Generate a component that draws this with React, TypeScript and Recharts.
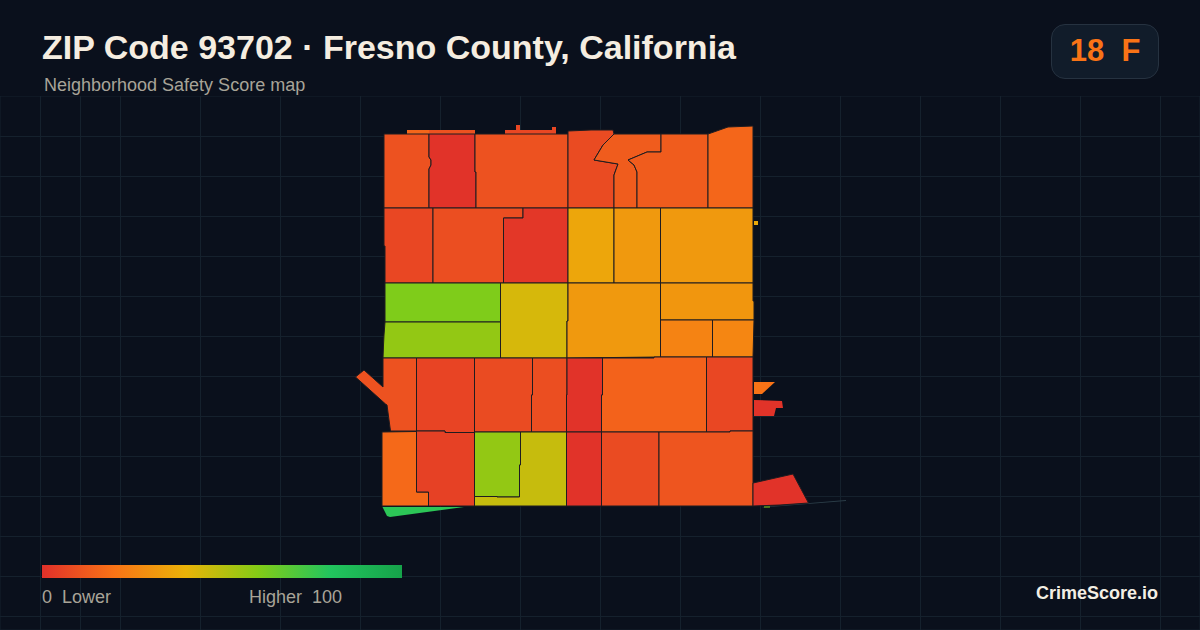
import { CartesianGrid, Scatter, ScatterChart, XAxis, YAxis } from 'recharts';

type Pt = [number, number];

const gridX = [0, 40, 80, 120, 160, 200, 240, 280, 320, 360, 400, 440, 480, 520, 560, 600, 640, 680, 720, 760, 800, 840, 880, 920, 960, 1000, 1040, 1080, 1120, 1160];
const gridY = [96, 136, 176, 216, 256, 296, 336, 376, 416, 456, 496, 536, 576, 616];

// score legend, 0 (lower) to 100 (higher)
const scoreStops = [0, 20, 40, 60, 80, 100];
const scoreColors = ['#e0302a', '#f97316', '#eab308', '#84cc16', '#22c55e', '#16a34a'];

// one score per tract, same order as tractOutlines
const tractScores = [
    16, 10, 7, 10, 1, 10, 8, 13, 13, 16,
    7, 9, 2, 36, 32, 32, 37,
    61, 57, 44, 32, 31, 25, 26,
    10, 6, 8, 9, 1, 15, 7, 20, 1,
    17, 5, 57, 47, 1, 8, 11, 1, 78, 60,
];

// small detached pieces, drawn without the dark border
const detachedTracts = [0, 1, 2, 16, 31, 32, 41, 42];

// tract outlines, [x, y] in map units
const tractOutlines: Pt[][] = [
    [[407, 130], [429, 130], [429, 134], [407, 134]],
    [[429, 130], [475, 130], [475, 134], [429, 134]],
    [[505, 130], [516, 130], [516, 125], [520, 125], [520, 130], [552, 130], [552, 127], [556, 127], [556, 134], [505, 134]],
    [[384, 134], [429, 134], [429, 157], [431, 160], [431, 165], [429, 169], [429, 208], [384, 208]],
    [[429, 134], [475, 134], [475, 172], [476, 172], [476, 208], [429, 208], [429, 169], [431, 165], [431, 160], [429, 157]],
    [[475, 134], [568, 134], [568, 208], [476, 208], [476, 172], [475, 172]],
    [[568, 131], [591, 130], [613, 130], [614, 134], [603, 145], [594, 160], [618, 164], [614, 175], [614, 208], [568, 208]],
    [[614, 134], [661, 134], [661, 152], [647, 152], [628, 160], [634, 165], [637, 172], [637, 208], [614, 208], [614, 175], [618, 164], [594, 160], [603, 145]],
    [[661, 134], [708, 134], [708, 208], [637, 208], [637, 172], [634, 165], [628, 160], [647, 152], [661, 152]],
    [[708, 134], [728, 127], [753, 126], [753, 208], [708, 208]],

    [[384, 208], [433, 208], [433, 283], [385, 283], [385, 246], [384, 246]],
    [[433, 208], [523, 208], [523, 218], [503.5, 218], [503.5, 283], [433, 283]],
    [[523, 208], [568, 208], [568, 283], [503.5, 283], [503.5, 218], [523, 218]],
    [[568, 208], [614, 208], [614, 283], [568, 283]],
    [[614, 208], [660.5, 208], [660.5, 283], [614, 283]],
    [[660.5, 208], [753, 208], [753, 283], [660.5, 283]],
    [[754, 221], [758, 221], [758, 225], [754, 225]],

    [[385, 283], [500.5, 283], [500.5, 322], [385, 322]],
    [[385, 322], [500.5, 322], [500.5, 358], [383, 358], [383.5, 345], [384, 335]],
    [[500.5, 283], [568, 283], [568, 321], [567, 321], [567, 358], [500.5, 358]],
    [[568, 283], [660.5, 283], [660.5, 357], [614, 357.5], [567, 358], [567, 321], [568, 321]],
    [[660.5, 283], [753, 283], [753, 301], [754, 301], [754, 320], [660.5, 320]],
    [[660.5, 320], [712.5, 320], [712.5, 357], [660.5, 357]],
    [[712.5, 320], [754, 320], [753, 357], [712.5, 357]],

    [[383, 358], [416.5, 358], [416.5, 431], [390.5, 431], [389, 420], [387, 405], [385.5, 404], [355.5, 377], [364, 370], [383, 387]],
    [[416.5, 358], [474.5, 358], [474.5, 432.5], [445, 432.5], [445, 431], [416.5, 431]],
    [[474.5, 358], [532.5, 358], [532.5, 395], [531.5, 395], [531.5, 432], [474.5, 432]],
    [[532.5, 358], [567, 358], [567, 395], [566.5, 395], [566.5, 432], [531.5, 432], [531.5, 395], [532.5, 395]],
    [[567, 358], [602.5, 358], [602.5, 395], [601.5, 395], [601.5, 432], [566.5, 432], [566.5, 395], [567, 395]],
    [[602.5, 358], [654, 358], [654, 357], [706.5, 357], [706.5, 432], [601.5, 432], [601.5, 395], [602.5, 395]],
    [[706.5, 357], [753, 357], [753, 431], [730, 431], [730, 432], [706.5, 432]],
    [[754, 382], [775, 382], [762, 394], [754, 394]],
    [[754, 400], [782, 401], [783, 408], [776, 408], [774, 416], [754, 416]],

    [[382, 432], [416.5, 431.5], [416.5, 492], [428.5, 492], [428.5, 506], [382, 506]],
    [[416.5, 431], [445, 431], [445, 432.5], [474.5, 432.5], [474.5, 506], [428.5, 506], [428.5, 492], [416.5, 492]],
    [[474.5, 432], [520.5, 432], [520.5, 465], [519.5, 465], [519.5, 497], [497, 497], [497, 496.5], [474.5, 496.5]],
    [[520.5, 432], [566.5, 432], [566.5, 506], [474.5, 506], [474.5, 496.5], [497, 496.5], [497, 497], [519.5, 497], [519.5, 465], [520.5, 465]],
    [[566.5, 432], [601.5, 432], [601.5, 506], [566.5, 506]],
    [[601.5, 432], [659, 432], [659, 506], [601.5, 506]],
    [[659, 432], [730, 432], [730, 431], [753, 431], [753, 506], [659, 506]],
    [[753, 483], [793, 474], [808.5, 503], [780, 505], [753, 506]],
    [[382.5, 507], [464, 507], [390, 517], [387, 516]],
    [[764, 506.5], [770, 506.5], [770, 507.5], [764, 507.5]],
];

// hairline sliver running off the south east corner
const sliverOutline: Pt[] = [[762, 507], [846, 500], [846, 501], [763, 507.5]];

const hex = (c: string, i: number) => parseInt(c.slice(1 + i * 2, 3 + i * 2), 16);

function scoreColor(score: number) {
    let i = 0;
    while (i < scoreStops.length - 2 && score > scoreStops[i + 1]) i++;
    const t = (score - scoreStops[i]) / (scoreStops[i + 1] - scoreStops[i]);
    const rgb = [0, 1, 2].map((k) => Math.round(hex(scoreColors[i], k) + (hex(scoreColors[i + 1], k) - hex(scoreColors[i], k)) * t));
    return `rgb(${rgb.join(',')})`;
}

const toPoints = (outline: Pt[]) => [...outline, outline[0]].map(([x, y]) => ({ x, y }));
const noDot = () => <g />;
// half pixel so the 1px grid lines stay crisp
const crisp = (v: number) => v + 0.5;

const legendGradient = scoreColors.map((c, i) => `${c} ${scoreStops[i]}%`).join(', ');
const sans = '"Liberation Sans", Arial, sans-serif';

export default function App() {
    return (
        <div style={{ position: 'fixed', left: 0, top: 0, width: 1200, height: 630, background: '#0a101c', overflow: 'hidden', fontFamily: sans }}>
            <div style={{ position: 'absolute', left: 0, top: 96 }}>
                <ScatterChart width={1200} height={534} margin={{ top: 0, right: 0, bottom: 0, left: 0 }}>
                    <CartesianGrid stroke="#15212d" strokeWidth={1} />
                    <XAxis type="number" dataKey="x" domain={[0, 1200]} ticks={gridX.map(crisp)} hide />
                    <YAxis type="number" dataKey="y" domain={[96, 630]} ticks={gridY.map(crisp)} reversed hide />
                    <Scatter
                        data={toPoints(sliverOutline)}
                        shape={noDot}
                        line={{ fill: '#2b3d48', stroke: 'none' }}
                        isAnimationActive={false}
                    />
                    {tractOutlines.map((outline, i) => (
                        <Scatter
                            key={i}
                            data={toPoints(outline)}
                            shape={noDot}
                            line={{
                                fill: scoreColor(tractScores[i]),
                                stroke: detachedTracts.includes(i) ? 'none' : '#1f1c20',
                                strokeWidth: 1,
                            }}
                            isAnimationActive={false}
                        />
                    ))}
                </ScatterChart>
            </div>

            <div style={{ position: 'absolute', left: 42, top: 27, fontSize: 34, lineHeight: '40px', fontWeight: 700, color: '#f5ede0', whiteSpace: 'pre' }}>
                ZIP Code 93702 · Fresno County, California
            </div>
            <div style={{ position: 'absolute', left: 44, top: 75, fontSize: 18, lineHeight: '20px', color: '#a8a498', whiteSpace: 'pre' }}>
                Neighborhood Safety Score map
            </div>

            <div style={{ position: 'absolute', left: 1051, top: 24, width: 106, height: 53, border: '1px solid #263240', borderRadius: 14, background: '#111c2a', color: '#f97316', fontSize: 31, lineHeight: '52px', fontWeight: 700, textAlign: 'center', whiteSpace: 'pre' }}>
                18  F
            </div>

            <div style={{ position: 'absolute', left: 42, top: 565, width: 360, height: 13, background: `linear-gradient(to right, ${legendGradient})` }} />
            <div style={{ position: 'absolute', left: 42, top: 587, fontSize: 18, lineHeight: '20px', color: '#a8a498', whiteSpace: 'pre' }}>0  Lower</div>
            <div style={{ position: 'absolute', left: 249, top: 587, fontSize: 18, lineHeight: '20px', color: '#a8a498', whiteSpace: 'pre' }}>Higher  100</div>
            <div style={{ position: 'absolute', right: 42, top: 583, fontSize: 18, lineHeight: '20px', fontWeight: 700, color: '#f3eee4', whiteSpace: 'pre' }}>CrimeScore.io</div>
        </div>
    );
}
